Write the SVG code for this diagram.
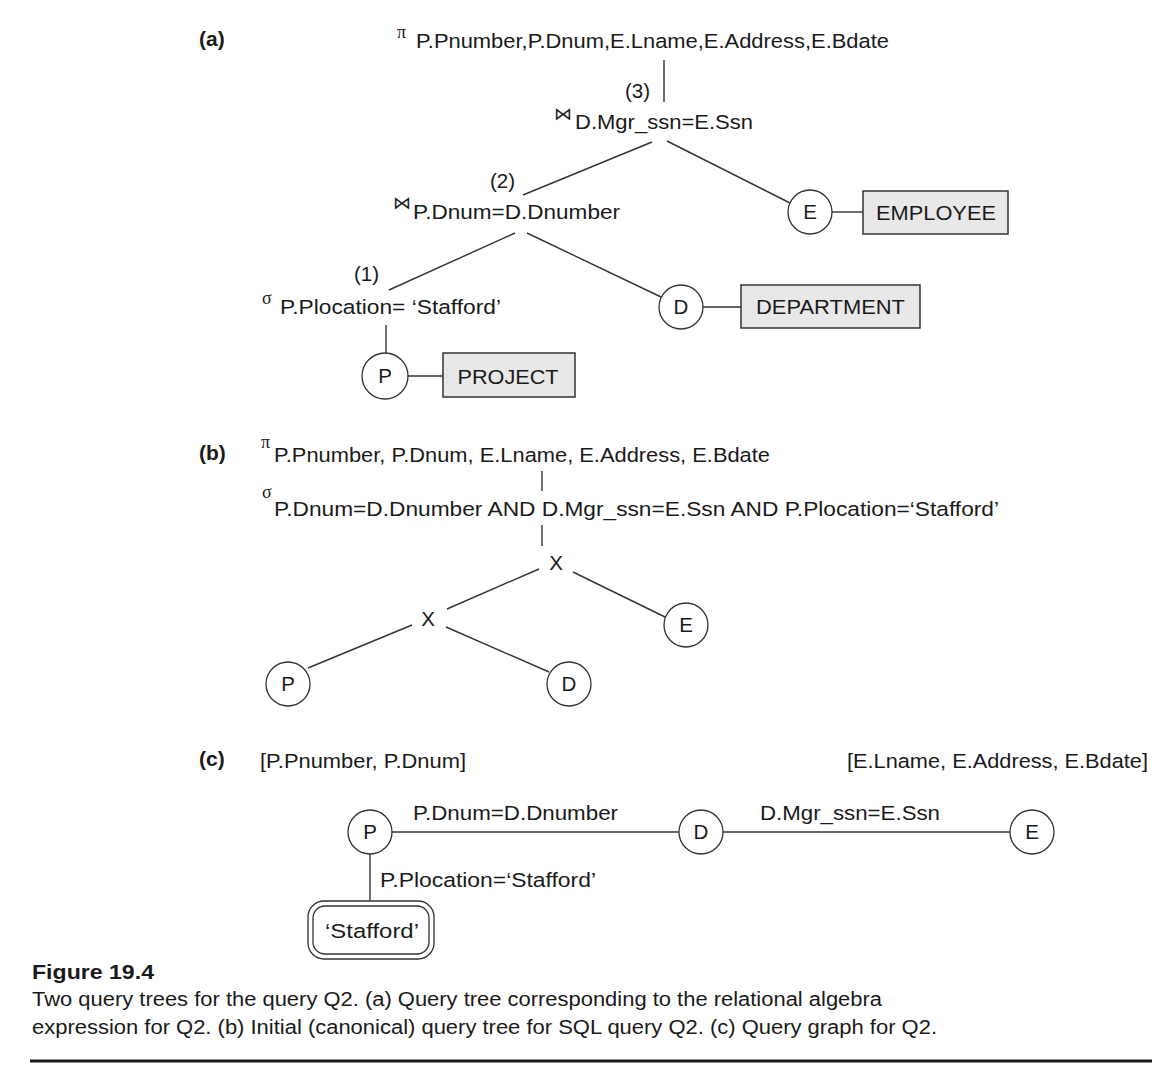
<svg xmlns="http://www.w3.org/2000/svg" width="1164" height="1069" viewBox="0 0 1164 1069">
<style>
.t{font-family:"Liberation Sans",Arial,sans-serif;font-size:20.5px;fill:#1a1a1a}
.b{font-family:"Liberation Sans",Arial,sans-serif;font-size:21px;font-weight:bold;fill:#1a1a1a}
.s{font-family:"Liberation Serif","DejaVu Serif",serif;font-size:18px;fill:#1a1a1a}
.c{font-family:"Liberation Sans",Arial,sans-serif;font-size:20px;fill:#1a1a1a}
.ln{stroke:#333;stroke-width:1.4;fill:none}
.nd{fill:#fff;stroke:#333;stroke-width:1.3}
.rel{fill:#e8e8e8;stroke:#333;stroke-width:1.5}
</style>
<rect width="1164" height="1069" fill="#fff"/>
<g id="connectors">
<line class="ln" x1="664" y1="60" x2="664" y2="102"/>
<line class="ln" x1="652" y1="142" x2="523" y2="195"/>
<line class="ln" x1="667" y1="141" x2="790" y2="203"/>
<line class="ln" x1="832" y1="212" x2="863" y2="212"/>
<line class="ln" x1="515" y1="233" x2="389" y2="290"/>
<line class="ln" x1="527" y1="233" x2="661" y2="297"/>
<line class="ln" x1="703" y1="307" x2="741" y2="307"/>
<line class="ln" x1="386" y1="325" x2="386" y2="353"/>
<line class="ln" x1="408" y1="376" x2="443" y2="376"/>
<line class="ln" x1="542" y1="471" x2="542" y2="491"/>
<line class="ln" x1="542" y1="525" x2="542" y2="546"/>
<line class="ln" x1="539" y1="569" x2="447" y2="609"/>
<line class="ln" x1="573" y1="572" x2="665" y2="617"/>
<line class="ln" x1="412" y1="625" x2="308" y2="668"/>
<line class="ln" x1="446" y1="627" x2="549" y2="672"/>
<line class="ln" x1="392" y1="832" x2="679" y2="832"/>
<line class="ln" x1="723" y1="832" x2="1010" y2="832"/>
<line class="ln" x1="370" y1="854" x2="370" y2="901"/>
</g>
<g id="a-label"><text class="b" x="199" y="46">(a)</text></g>
<g id="a-proj">
<text class="s" x="397" y="38">π</text>
<text class="t" x="416" y="48" textLength="473" lengthAdjust="spacingAndGlyphs">P.Pnumber,P.Dnum,E.Lname,E.Address,E.Bdate</text>
</g>
<g id="a-num3"><text class="t" x="625" y="98">(3)</text></g>
<g id="a-join1">
<text class="s" x="554" y="120" font-size="12" style="font-family:'DejaVu Sans',sans-serif">⋈</text>
<text class="t" x="575" y="129" textLength="178" lengthAdjust="spacingAndGlyphs">D.Mgr_ssn=E.Ssn</text>
</g>
<g id="a-num2"><text class="t" x="490" y="188">(2)</text></g>
<g id="a-join2">
<text class="s" x="393" y="209" font-size="12" style="font-family:'DejaVu Sans',sans-serif">⋈</text>
<text class="t" x="413" y="219" textLength="207" lengthAdjust="spacingAndGlyphs">P.Dnum=D.Dnumber</text>
</g>
<g id="a-num1"><text class="t" x="354" y="281">(1)</text></g>
<g id="a-select">
<text class="s" x="262" y="304">σ</text>
<text class="t" x="280" y="314" textLength="221" lengthAdjust="spacingAndGlyphs">P.Plocation= ‘Stafford’</text>
</g>
<g id="a-E"><circle class="nd" cx="810" cy="212" r="22"/><text class="t" x="810" y="219" text-anchor="middle">E</text></g>
<g id="a-EMPLOYEE"><rect class="rel" x="863" y="191" width="145" height="43"/><text class="t" x="936" y="220" text-anchor="middle" textLength="120" lengthAdjust="spacingAndGlyphs">EMPLOYEE</text></g>
<g id="a-D"><circle class="nd" cx="681" cy="307" r="22"/><text class="t" x="681" y="314" text-anchor="middle">D</text></g>
<g id="a-DEPARTMENT"><rect class="rel" x="741" y="285" width="179" height="43"/><text class="t" x="830.5" y="314" text-anchor="middle" textLength="149" lengthAdjust="spacingAndGlyphs">DEPARTMENT</text></g>
<g id="a-P"><circle class="nd" cx="385" cy="376" r="23"/><text class="t" x="385" y="383" text-anchor="middle">P</text></g>
<g id="a-PROJECT"><rect class="rel" x="443" y="353" width="132" height="44"/><text class="t" x="508" y="384" text-anchor="middle" textLength="101" lengthAdjust="spacingAndGlyphs">PROJECT</text></g>

<g id="b-label"><text class="b" x="199" y="460">(b)</text></g>
<g id="b-proj">
<text class="s" x="261" y="448" font-size="15">π</text>
<text class="t" x="274" y="462" textLength="496" lengthAdjust="spacingAndGlyphs">P.Pnumber, P.Dnum, E.Lname, E.Address, E.Bdate</text>
</g>
<g id="b-select">
<text class="s" x="262" y="498" font-size="15">σ</text>
<text class="t" x="274" y="516" textLength="725" lengthAdjust="spacingAndGlyphs">P.Dnum=D.Dnumber AND D.Mgr_ssn=E.Ssn AND P.Plocation=‘Stafford’</text>
</g>
<g id="b-X1"><text class="t" x="556" y="570" text-anchor="middle">X</text></g>
<g id="b-X2"><text class="t" x="428" y="626" text-anchor="middle">X</text></g>
<g id="b-E"><circle class="nd" cx="686" cy="625" r="22"/><text class="t" x="686" y="632" text-anchor="middle">E</text></g>
<g id="b-P"><circle class="nd" cx="288" cy="684" r="22"/><text class="t" x="288" y="691" text-anchor="middle">P</text></g>
<g id="b-D"><circle class="nd" cx="569" cy="684" r="22"/><text class="t" x="569" y="691" text-anchor="middle">D</text></g>

<g id="c-label"><text class="b" x="199" y="766">(c)</text></g>
<g id="c-attrP"><text class="t" x="260" y="768" textLength="206" lengthAdjust="spacingAndGlyphs">[P.Pnumber, P.Dnum]</text></g>
<g id="c-attrE"><text class="t" x="847" y="768" textLength="301" lengthAdjust="spacingAndGlyphs">[E.Lname, E.Address, E.Bdate]</text></g>
<g id="c-lab1"><text class="t" x="413" y="820" textLength="205" lengthAdjust="spacingAndGlyphs">P.Dnum=D.Dnumber</text></g>
<g id="c-lab2"><text class="t" x="760" y="820" textLength="180" lengthAdjust="spacingAndGlyphs">D.Mgr_ssn=E.Ssn</text></g>
<g id="c-lab3"><text class="t" x="380" y="887" textLength="216" lengthAdjust="spacingAndGlyphs">P.Plocation=‘Stafford’</text></g>
<g id="c-P"><circle class="nd" cx="370" cy="832" r="22"/><text class="t" x="370" y="839" text-anchor="middle">P</text></g>
<g id="c-D"><circle class="nd" cx="701" cy="832" r="22"/><text class="t" x="701" y="839" text-anchor="middle">D</text></g>
<g id="c-E"><circle class="nd" cx="1032" cy="832" r="22"/><text class="t" x="1032" y="839" text-anchor="middle">E</text></g>
<g id="c-Stafford">
<rect class="nd" x="308" y="901" width="126" height="58" rx="16"/>
<rect class="nd" x="313" y="906" width="116" height="48" rx="12"/>
<text class="t" x="372" y="938" text-anchor="middle" textLength="94" lengthAdjust="spacingAndGlyphs">‘Stafford’</text>
</g>

<g id="caption">
<text class="b" x="32" y="979" textLength="122" lengthAdjust="spacingAndGlyphs">Figure 19.4</text>
<text class="c" x="32" y="1006" textLength="850" lengthAdjust="spacingAndGlyphs">Two query trees for the query Q2. (a) Query tree corresponding to the relational algebra</text>
<text class="c" x="32" y="1034" textLength="905" lengthAdjust="spacingAndGlyphs">expression for Q2. (b) Initial (canonical) query tree for SQL query Q2. (c) Query graph for Q2.</text>
<line x1="30" y1="1061" x2="1152" y2="1061" stroke="#1a1a1a" stroke-width="3"/>
</g>
</svg>
